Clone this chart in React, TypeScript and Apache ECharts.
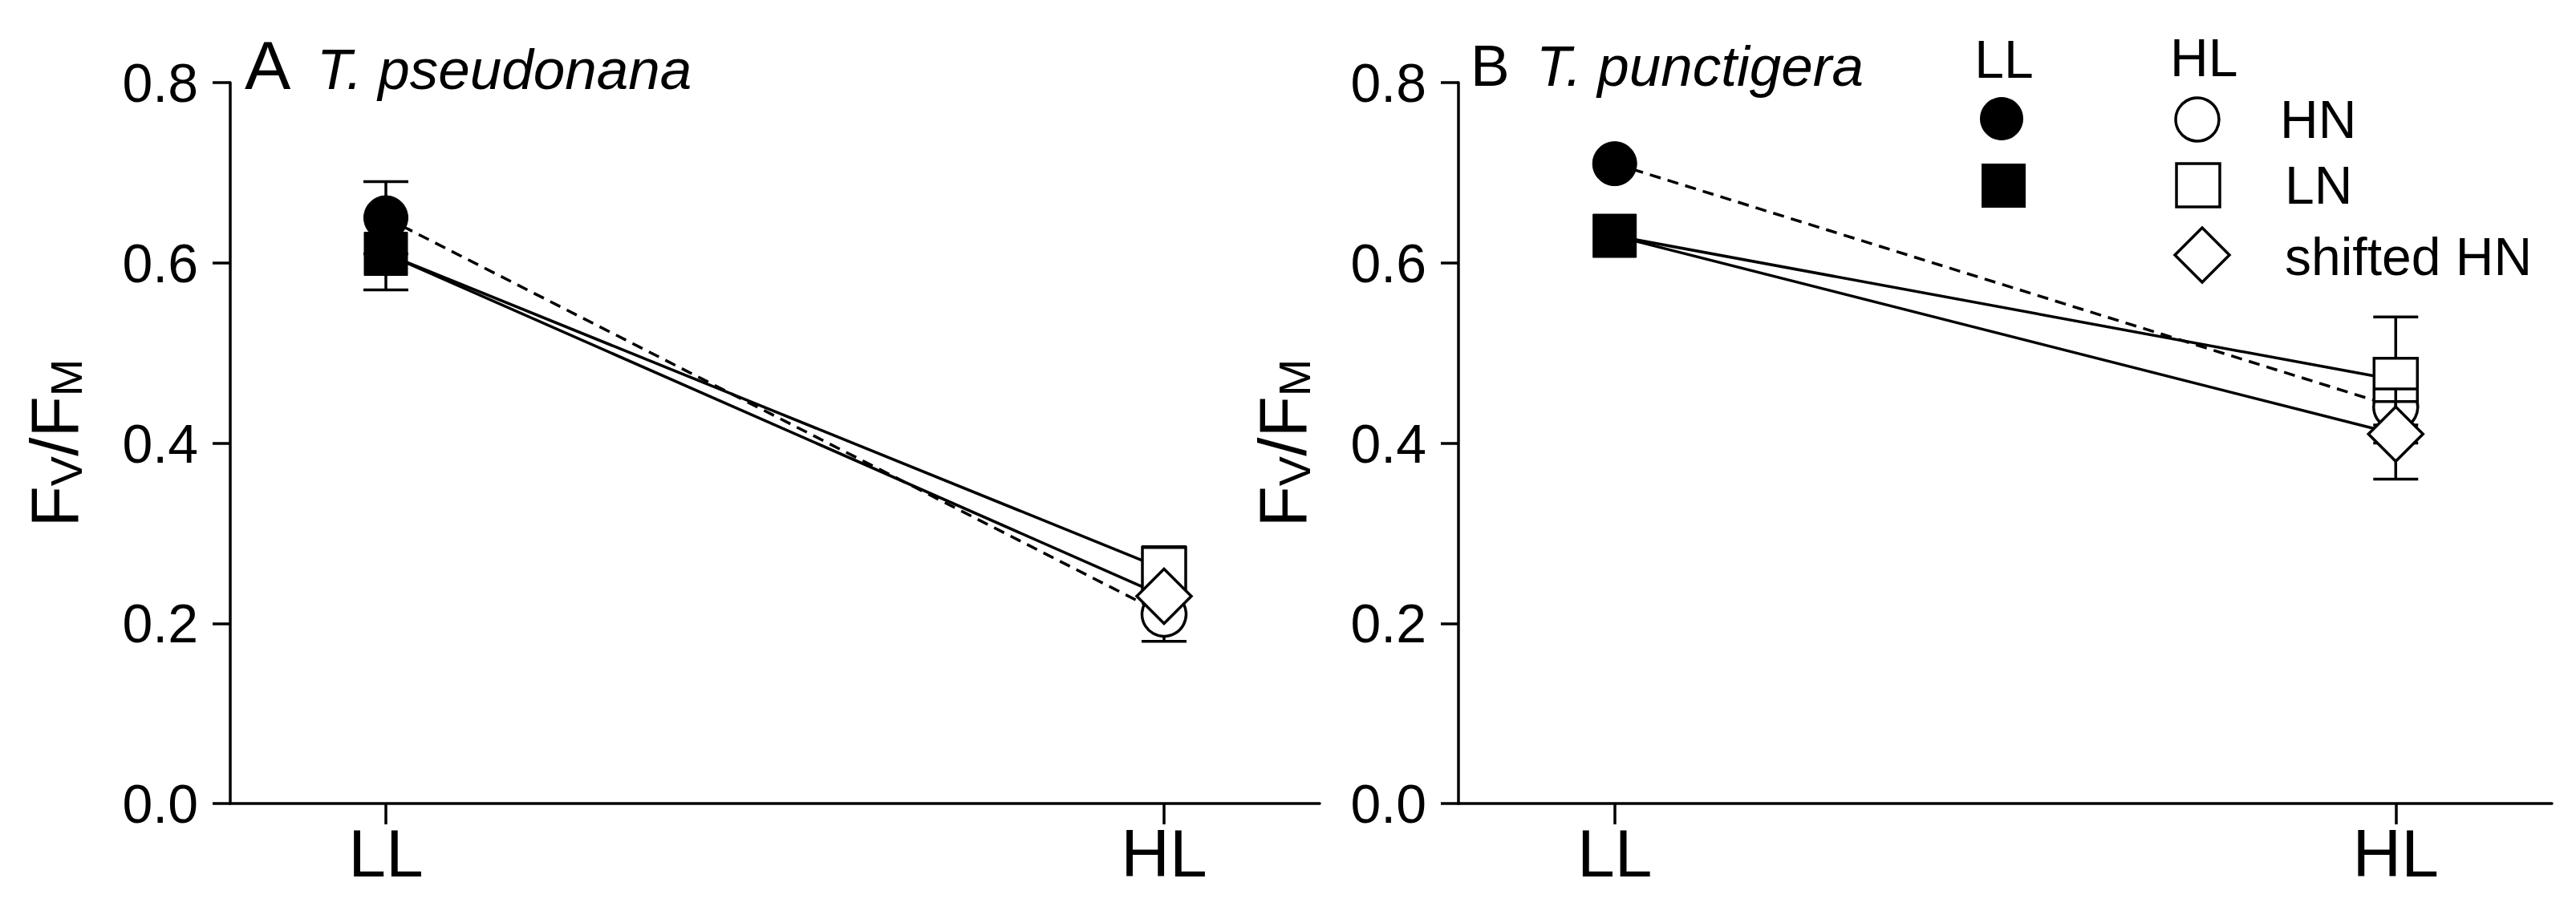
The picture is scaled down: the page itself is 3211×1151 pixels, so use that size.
import React, { useEffect, useRef } from "react";
import * as echarts from "echarts";

// ---- data ----
const categories = ["LL", "HL"];
const categoryPositions = [0, 1];
const yTickValues = [0, 0.2, 0.4, 0.6, 0.8];
const panelLetters = ["A", "B"];
const speciesNames = ["T. pseudonana", "T. punctigera"];
const seriesNames = ["HN", "LN", "shifted HN"];
const legendHeaders = ["LL", "HL"];

// Panel A (T. pseudonana)
const aHN = [0.65, 0.21];
const aHNErr = [0.04, 0.03];
const aLN = [0.61, 0.26];
const aLNErr = [0.04, 0.025];
const aShifted = [0.61, 0.23];
const aShiftedErr = [0, 0];

// Panel B (T. punctigera)
const bHN = [0.71, 0.44];
const bHNErr = [0, 0.02];
const bLN = [0.63, 0.47];
const bLNErr = [0, 0.07];
const bShifted = [0.63, 0.41];
const bShiftedErr = [0, 0.05];

const FONT = "'Liberation Sans', Arial, Helvetica, sans-serif";
const NARROW = "'Liberation Sans Narrow', 'Arial Narrow', 'Liberation Sans', Arial, sans-serif";
const BLACK = "#000";
const LW = 3.5;

const errRender = (params: any, api: any) => {
  const x = api.value(0);
  const y = api.value(1);
  const e = api.value(2);
  if (!e) return null;
  const t = api.coord([x, y + e]);
  const b = api.coord([x, y - e]);
  const st = { stroke: BLACK, lineWidth: LW, fill: null };
  return {
    type: "group",
    children: [
      { type: "line", shape: { x1: t[0], y1: t[1], x2: b[0], y2: b[1] }, style: st },
      { type: "line", shape: { x1: t[0] - 28, y1: t[1], x2: t[0] + 28, y2: t[1] }, style: st },
      { type: "line", shape: { x1: b[0] - 28, y1: b[1], x2: b[0] + 28, y2: b[1] }, style: st },
    ],
  };
};

function panelSeries(gi: number, hn: number[], hnE: number[], ln: number[], lnE: number[], sh: number[], shE: number[]) {
  const pts = (v: number[]) => categoryPositions.map((x, i) => [x, v[i]]);
  const errPts = (v: number[], e: number[]) => categoryPositions.map((x, i) => [x, v[i], e[i]]);
  const filled = { color: BLACK, borderColor: BLACK, borderWidth: 1, opacity: 1 };
  const open = { color: "#fff", borderColor: BLACK, borderWidth: LW, opacity: 1 };
  const base = { xAxisIndex: gi, yAxisIndex: gi, silent: true };
  const line = (name: string, v: number[], dashed: boolean) => ({
    ...base,
    type: "line",
    name,
    data: pts(v),
    showSymbol: false,
    symbol: "none",
    z: 2,
    lineStyle: { color: BLACK, width: LW, type: dashed ? [14, 9] : "solid" },
  });
  const err = (name: string, v: number[], e: number[], z: number) => ({
    ...base,
    type: "custom",
    name: name + " err",
    data: errPts(v, e),
    renderItem: errRender,
    z,
  });
  const markers = (name: string, v: number[], symbol: string, size: any, z: number, skipLL: boolean) => ({
    ...base,
    type: "scatter",
    name: name + " pts",
    symbol,
    symbolSize: size,
    z,
    itemStyle: { opacity: 1 },
    data: pts(v)
      .map((p, i) => ({ value: p, itemStyle: i === 0 ? filled : open }))
      .filter((_, i) => !(skipLL && i === 0)),
  });
  return [
    line(seriesNames[0], hn, true),
    line(seriesNames[1], ln, false),
    line(seriesNames[2], sh, false),
    err(seriesNames[0], hn, hnE, 3),
    markers(seriesNames[0], hn, "circle", 55, 4, false),
    err(seriesNames[1], ln, lnE, 5),
    markers(seriesNames[1], ln, "rect", 54, 6, false),
    err(seriesNames[2], sh, shE, 7),
    markers(seriesNames[2], sh, "diamond", [68, 68], 8, true),
  ];
}

function xAxisDef(gi: number) {
  return {
    gridIndex: gi,
    type: "value",
    min: -0.2,
    max: 1.2,
    axisLine: { show: true, onZero: false, lineStyle: { color: BLACK, width: LW } },
    axisTick: { show: true, customValues: categoryPositions, length: 26, lineStyle: { color: BLACK, width: LW } },
    axisLabel: {
      customValues: categoryPositions,
      formatter: (v: number) => categories[Math.round(v)] ?? "",
      fontSize: 84,
      fontFamily: NARROW,
      color: BLACK,
      margin: 20,
    },
    splitLine: { show: false },
  };
}

function yAxisDef(gi: number) {
  return {
    gridIndex: gi,
    type: "value",
    min: yTickValues[0],
    max: yTickValues[yTickValues.length - 1],
    interval: 0.2,
    axisLine: { show: true, onZero: false, lineStyle: { color: BLACK, width: LW } },
    axisTick: { show: true, length: 22, lineStyle: { color: BLACK, width: LW } },
    axisLabel: {
      formatter: (v: number) => v.toFixed(1),
      fontSize: 68,
      fontFamily: NARROW,
      color: BLACK,
      margin: 40,
    },
    splitLine: { show: false },
    name: "{f|F}{s|V}{f|/F}{s|M}",
    nameLocation: "middle",
    nameRotate: 90,
    nameGap: 177,
    nameTextStyle: {
      color: BLACK,
      rich: {
        f: { fontSize: 84, lineHeight: 84, fontFamily: FONT, color: BLACK },
        s: { fontSize: 56, lineHeight: 26, verticalAlign: "bottom", fontFamily: FONT, color: BLACK },
      },
    },
  };
}

function legendGraphics() {
  const t = (text: string, x: number, y: number, align: string) => ({
    type: "text",
    x,
    y,
    style: { text, fontSize: 66, fontFamily: FONT, fill: BLACK, align, verticalAlign: "middle" },
  });
  const stroke = { stroke: BLACK, lineWidth: LW };
  return [
    t(legendHeaders[0], 2498, 74, "center"),
    t(legendHeaders[1], 2705, 72, "left"),
    { type: "circle", shape: { cx: 2495, cy: 148, r: 27 }, style: { fill: BLACK } },
    { type: "rect", shape: { x: 2470, y: 204, width: 55, height: 55 }, style: { fill: BLACK } },
    { type: "circle", shape: { cx: 2739, cy: 149, r: 27 }, style: { fill: "#fff", ...stroke } },
    { type: "rect", shape: { x: 2713, y: 204, width: 54, height: 54 }, style: { fill: "#fff", ...stroke } },
    {
      type: "polygon",
      shape: { points: [[2745, 284], [2779, 318], [2745, 352], [2711, 318]] },
      style: { fill: "#fff", ...stroke },
    },
    t(seriesNames[0], 2842, 149, "left"),
    t(seriesNames[1], 2848, 231, "left"),
    t(seriesNames[2], 2848, 320, "left"),
  ];
}

function titleGraphics() {
  const g = (text: string, x: number, y: number, size: number, italic: boolean) => ({
    type: "text",
    x,
    y,
    style: {
      text,
      fontSize: size,
      fontFamily: FONT,
      fontStyle: italic ? "italic" : "normal",
      fill: BLACK,
      align: "left",
      verticalAlign: "middle",
    },
  });
  return [
    g(panelLetters[0], 305, 81, 86, false),
    g(speciesNames[0], 395, 86, 71, true),
    g(panelLetters[1], 1833, 81, 73, false),
    g(speciesNames[1], 1915, 82, 71, true),
  ];
}

export default function App() {
  const ref = useRef<HTMLDivElement>(null);
  useEffect(() => {
    if (!ref.current) return;
    const chart = echarts.init(ref.current, null, { renderer: "svg" });
    chart.setOption({
      animation: false,
      backgroundColor: "#fff",
      grid: [
        { left: 287, top: 103, width: 1358, height: 899 },
        { left: 1818, top: 103, width: 1363, height: 899 },
      ],
      xAxis: [xAxisDef(0), xAxisDef(1)],
      yAxis: [yAxisDef(0), yAxisDef(1)],
      series: [
        ...panelSeries(0, aHN, aHNErr, aLN, aLNErr, aShifted, aShiftedErr),
        ...panelSeries(1, bHN, bHNErr, bLN, bLNErr, bShifted, bShiftedErr),
      ],
      graphic: [...titleGraphics(), ...legendGraphics()],
    });
    return () => chart.dispose();
  }, []);
  return (
    <div
      ref={ref}
      style={{ position: "fixed", left: 0, top: 0, width: 3211, height: 1151, background: "#fff" }}
    />
  );
}
